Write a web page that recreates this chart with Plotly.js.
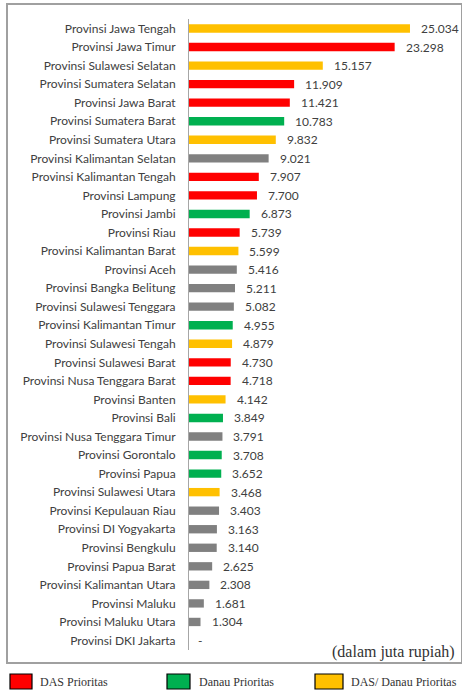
<!DOCTYPE html>
<html>
<head>
<meta charset="utf-8">
<script src="https://cdn.plot.ly/plotly-3.0.1.min.js"></script>
<style>html,body{margin:0;padding:0;background:#fff;}#chart{width:462px;height:690px;}</style>
</head>
<body>
<div id="chart"></div>
<script>
// ---- data ----
var provinces = [
  "Provinsi Jawa Tengah","Provinsi Jawa Timur","Provinsi Sulawesi Selatan","Provinsi Sumatera Selatan",
  "Provinsi Jawa Barat","Provinsi Sumatera Barat","Provinsi Sumatera Utara","Provinsi Kalimantan Selatan",
  "Provinsi Kalimantan Tengah","Provinsi Lampung","Provinsi Jambi","Provinsi Riau",
  "Provinsi Kalimantan Barat","Provinsi Aceh","Provinsi Bangka Belitung","Provinsi Sulawesi Tenggara",
  "Provinsi Kalimantan Timur","Provinsi Sulawesi Tengah","Provinsi Sulawesi Barat","Provinsi Nusa Tenggara Barat",
  "Provinsi Banten","Provinsi Bali","Provinsi Nusa Tenggara Timur","Provinsi Gorontalo",
  "Provinsi Papua","Provinsi Sulawesi Utara","Provinsi Kepulauan Riau","Provinsi DI Yogyakarta",
  "Provinsi Bengkulu","Provinsi Papua Barat","Provinsi Kalimantan Utara","Provinsi Maluku",
  "Provinsi Maluku Utara","Provinsi DKI Jakarta"
];
var values = [
  25034, 23298, 15157, 11909,
  11421, 10783, 9832, 9021,
  7907, 7700, 6873, 5739,
  5599, 5416, 5211, 5082,
  4955, 4879, 4730, 4718,
  4142, 3849, 3791, 3708,
  3652, 3468, 3403, 3163,
  3140, 2625, 2308, 1681,
  1304, null
];
// category: R = DAS Prioritas, G = Danau Prioritas, Y = DAS/ Danau Prioritas, N = none
var categories = [
  "Y","R","Y","R",
  "R","G","Y","N",
  "R","R","G","R",
  "Y","N","N","N",
  "G","Y","R","R",
  "Y","G","N","G",
  "G","Y","N","N",
  "N","N","N","N",
  "N","N"
];
var legendKeys = ["R","G","Y"];
var legendNames = ["DAS Prioritas","Danau Prioritas","DAS/ Danau Prioritas"];
var unitNote = "(dalam juta rupiah)";

// ---- styling ----
var colorMap = {R:"#FF0000", G:"#00B050", Y:"#FFC000", N:"#808080"};
var W = 462, H = 690;
var mL = 189, mR = 2, mT = 19, mB = 40;
var plotW = W - mL - mR, plotH = H - mT - mB;
function px(x){ return (x - mL) / plotW; }
function py(y){ return (H - mB - y) / plotH; }

function fmt(v){
  if (v === null) return "-";
  return String(v).replace(/\B(?=(\d{3})+(?!\d))/g, ".");
}

var trace = {
  type: "bar",
  orientation: "h",
  y: provinces,
  x: values.map(function(v){ return v === null ? 0 : v; }),
  marker: {color: categories.map(function(c){ return colorMap[c]; })},
  width: 0.45,
  hoverinfo: "y+x",
  showlegend: false
};

var annotations = provinces.map(function(p, i){
  return {
    x: values[i] === null ? 0 : values[i], y: p, xref: "x", yref: "y",
    text: fmt(values[i]), showarrow: false, xanchor: "left", yanchor: "middle",
    xshift: values[i] === null ? 7 : 9,
    font: {family: "Lato, 'Open Sans', sans-serif", size: 12, color: "#404040"}
  };
});

var shapes = [
  // outer frame
  {type: "rect", xref: "paper", yref: "paper", x0: px(7), x1: px(462), y0: py(663), y1: py(4),
   line: {color: "#A0A0A0", width: 2}, fillcolor: "rgba(0,0,0,0)", layer: "below"}
];

var legendBoxes = [[10, 32], [167, 190], [315, 343]];
var legendTextX = [38, 197, 349];
legendKeys.forEach(function(k, i){
  shapes.push({type: "rect", xref: "paper", yref: "paper",
    x0: px(legendBoxes[i][0]), x1: px(legendBoxes[i][1]), y0: py(689), y1: py(674),
    fillcolor: colorMap[k], line: {color: "#000000", width: 1.2}});
  annotations.push({xref: "paper", yref: "paper", x: px(legendTextX[i]), y: py(682),
    text: legendNames[i], showarrow: false, xanchor: "left", yanchor: "middle",
    font: {family: "'Liberation Serif', 'DejaVu Serif', serif", size: 12, color: "#333333"}});
});

annotations.push({xref: "paper", yref: "paper", x: px(457), y: py(652),
  text: unitNote, showarrow: false, xanchor: "right", yanchor: "middle",
  font: {family: "'Liberation Serif', 'DejaVu Serif', serif", size: 16, color: "#333333"}});

var layout = {
  width: W, height: H,
  margin: {l: mL, r: mR, t: mT, b: mB, pad: 0},
  paper_bgcolor: "#ffffff", plot_bgcolor: "#ffffff",
  showlegend: false,
  xaxis: {range: [0, 30700], visible: false, fixedrange: true},
  yaxis: {
    type: "category", autorange: "reversed",
    showline: true, linecolor: "#A6A6A6", linewidth: 1,
    showgrid: false, zeroline: false,
    ticks: "outside", ticklen: 10, tickcolor: "rgba(0,0,0,0)",
    tickfont: {family: "Lato, 'Open Sans', sans-serif", size: 12, color: "#404040"},
    fixedrange: true
  },
  shapes: shapes,
  annotations: annotations
};

Plotly.newPlot("chart", [trace], layout, {displayModeBar: false, staticPlot: true});
</script>
</body>
</html>
